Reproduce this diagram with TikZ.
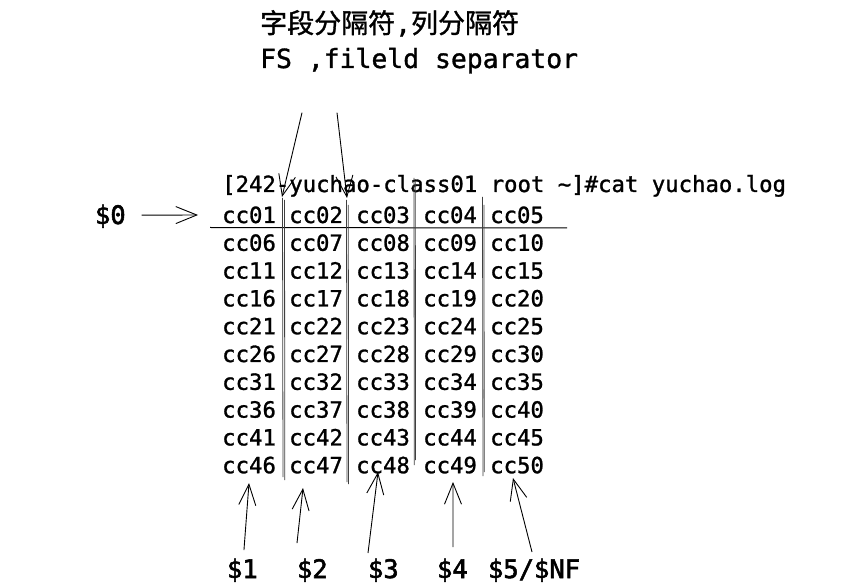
\documentclass[tikz,border=0pt]{standalone}
\usepackage{fontspec}
\setmonofont{DejaVu Sans Mono}
\newfontfamily\monomed[FakeBold=1.2]{DejaVu Sans Mono}
\newfontfamily\monobold[FakeBold=2.2]{DejaVu Sans Mono}
\newfontfamily\cjk[FakeBold=1.2]{Noto Sans CJK SC}
\usetikzlibrary{arrows.meta,calc}
\tikzset{
  cell/.style={anchor=base west,inner sep=0pt,font=\monomed\fontsize{22.3}{26}\selectfont},
  big/.style={anchor=base west,inner sep=0pt,font=\monomed\fontsize{26.4}{30}\selectfont},
  label/.style={anchor=base west,inner sep=0pt,outer sep=0pt,font=\monobold\fontsize{25.5}{30}\selectfont},
  sketcharrow/.style={line width=0.9pt,-{Straight Barb[length=21pt,width=17pt,line width=0.9pt]}},
  sep/.style={line width=0.8pt,black!75},
}
\begin{document}
\begin{tikzpicture}[x=1pt,y=-1pt]
\useasboundingbox (0,0) rectangle (841,585);
\fill[white] (0,0) rectangle (841,585);
% headings
\node[anchor=base west,inner sep=0pt] (zh) at (260,33) {\cjk\fontsize{27}{30}\selectfont 字段分隔符{\monomed\fontsize{26.4}{30}\selectfont ,}列分隔符};
\node[big] (fs) at (260,68) {FS ,fileld separator};
% command line
\node[cell] (cmd) at (222,192) {[242-yuchao-class01 root \textasciitilde]\#cat yuchao.log};
% table cells
\foreach \r in {1,...,10}{
  \foreach \c in {1,...,5}{
    \pgfmathtruncatemacro{\n}{(\r-1)*5+\c}
    \pgfmathsetmacro{\xx}{222+67*(\c-1)}
    \pgfmathsetmacro{\yy}{223+27.8*(\r-1)}
    \node[cell] (c\n) at (\xx,\yy) {cc\ifnum\n<10 0\fi\n};
  }
}
% separators
\draw[line width=1pt] (210,227.5) -- (567,228);
\draw[sep] (282.5,198) -- (283,477);
\draw[sep] (284.5,200) -- (284.8,480);
\draw[sep] (346.5,200) -- (347,482);
\draw[sep] (348.3,205) -- (348.5,484);
\draw[sep] (414,178) -- (414.3,465);
\draw[sep] (415.3,182) -- (415.5,460);
\draw[sep] (482.5,197) -- (483,476);
\draw[sep] (484,205) -- (484.2,472);
% $0
\node[label] (l0) at (95,224) {\$0};
\coordinate (p0) at (198,215);
\draw[sketcharrow] ($(l0.east)+(16,-1)$) -- (p0);
% top arrows
\coordinate (a1) at (282,197);
\coordinate (a2) at (347,198);
\draw[sketcharrow] ($(fs.south west)+(42,39)$) -- (a1);
\draw[sketcharrow] ($(fs.south west)+(77,39)$) -- (a2);
% bottom labels
\node[label] (l1) at (227,578) {\$1};
\node[label] (l2) at (297,578) {\$2};
\node[label] (l3) at (368,578) {\$3};
\node[label] (l4) at (437,578) {\$4};
\node[label] (l5) at (488,578) {\$5/\$NF};
\coordinate (b1) at (249,483);
\coordinate (b2) at (303,488);
\coordinate (b3) at (378,472);
\coordinate (b4) at (453,482);
\coordinate (b5) at (513,478);
\draw[sketcharrow] ($(l1.north)+(1.6,-8.6)$) -- (b1);
\draw[sketcharrow] ($(l2.north west)+(0,-15.6)$) -- (b2);
\draw[sketcharrow] ($(l3.north west)+(0,-5.6)$) -- (b3);
\draw[sketcharrow] ($(l4.north)+(0.6,-11.6)$) -- (b4);
\draw[sketcharrow] ($(l5.north west)+(44,-6.6)$) -- (b5);
\end{tikzpicture}
\end{document}
